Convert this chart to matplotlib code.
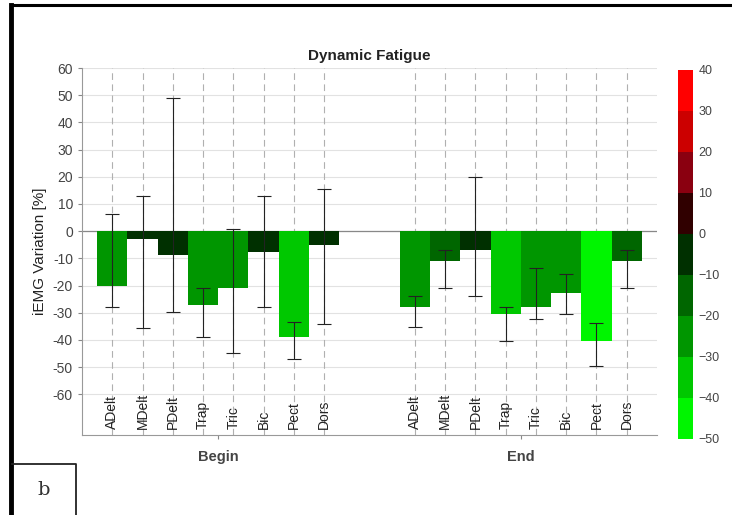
import matplotlib
matplotlib.use('Agg')
import matplotlib.pyplot as plt
import numpy as np
from matplotlib.colors import ListedColormap, BoundaryNorm
from matplotlib.lines import Line2D
import matplotlib.cm as cm

plt.rcParams['font.family'] = ['Liberation Sans', 'DejaVu Sans']

muscles = ['ADelt', 'MDelt', 'PDelt', 'Trap', 'Tric', 'Bic', 'Pect', 'Dors']
phases = ['Begin', 'End']

# bar value, top and bottom of whisker (iEMG variation, %)
begin_vals = [-20.2, -3, -8.8, -27.2, -21, -7.7, -39, -5.2]
begin_hi = [6.2, 12.9, 48.9, -21, 0.7, 12.9, -33.4, 15.4]
begin_lo = [-28, -35.7, -29.8, -39, -44.9, -28, -47, -34.2]

end_vals = [-28, -11, -7, -30.3, -28, -22.9, -40.4, -11]
end_hi = [-24, -7, 19.9, -28, -13.6, -15.8, -33.9, -7]
end_lo = [-35.2, -21, -24, -40.4, -32.4, -30.6, -49.6, -21]

# colour scale, one colour per 10 % bin from -50 to 40
bin_edges = [-50, -40, -30, -20, -10, 0, 10, 20, 30, 40]
bin_colors = ['#00f500', '#00c800', '#009600', '#006600', '#003000',
              '#300000', '#8a0010', '#cc0000', '#ff0000']

cmap = ListedColormap(bin_colors)
norm = BoundaryNorm(bin_edges, cmap.N)

fig = plt.figure(figsize=(7.32, 5.15), dpi=100)
ax = fig.add_axes([0.112, 0.1553, 0.7855, 0.7126])

grey = '#444444'
x_begin = np.arange(1, 9)
x_end = np.arange(11, 19)
xs = np.concatenate([x_begin, x_end])
vals = np.array(begin_vals + end_vals)
hi = np.array(begin_hi + end_hi)
lo = np.array(begin_lo + end_lo)

# grid
for y in range(-60, 61, 10):
    ax.axhline(y, color='#e2e2e2', lw=0.8, zorder=0)
for x in xs:
    ax.axvline(x, color='#b0b0b0', lw=0.8, ls=(0, (6, 4)), zorder=0.5)
ax.axhline(0, color='#888888', lw=0.9, zorder=0.6)

ax.bar(xs, vals, width=1.0, color=cmap(norm(vals)), zorder=2)
ax.errorbar(xs, vals, yerr=[vals - lo, hi - vals], fmt='none',
            ecolor='#222222', elinewidth=0.8, capsize=5, capthick=0.8, zorder=3)

for x, name in zip(xs, muscles + muscles):
    ax.text(x, -72.8, name, rotation=90, ha='center', va='bottom',
            fontsize=10, color='#222222', zorder=4)

ax.set_xlim(0, 19)
ax.set_ylim(-75, 60)
ax.set_yticks(range(-60, 61, 10))
ax.set_yticklabels([str(v) for v in range(-60, 61, 10)], fontsize=10, color=grey)
ax.set_xticks([4.5, 14.5])
ax.set_xticklabels(phases, fontsize=10.5, fontweight='bold', color=grey)
ax.tick_params(axis='x', length=3, pad=8, color='#888888')
ax.tick_params(axis='y', length=3, color='#888888')
for side in ['top', 'right']:
    ax.spines[side].set_visible(False)
for side in ['left', 'bottom']:
    ax.spines[side].set_color('#999999')
    ax.spines[side].set_linewidth(0.8)

ax.set_ylabel('iEMG Variation [%]', fontsize=11, color='#222222', labelpad=4)
ax.set_title('Dynamic Fatigue', fontsize=11, fontweight='bold', color='#222222', pad=6)

# colour bar
cax = fig.add_axes([0.926, 0.1476, 0.0205, 0.7165])
cb = fig.colorbar(cm.ScalarMappable(norm=norm, cmap=cmap), cax=cax,
                  ticks=bin_edges, spacing='proportional')
cb.outline.set_visible(False)
cax.tick_params(length=0, labelsize=9, colors=grey, pad=4)

# panel frame and label box
fig.add_artist(Line2D([0.0150, 1.0], [0.990, 0.990], color='black', lw=2.2,
                      transform=fig.transFigure))
fig.add_artist(Line2D([0.0150, 0.0150], [0.0, 0.990], color='black', lw=3.5,
                      transform=fig.transFigure))
fig.add_artist(Line2D([0.0170, 0.104, 0.104], [0.099, 0.099, 0.0], color='#222222',
                      lw=1.3, transform=fig.transFigure))
fig.text(0.060, 0.048, 'b', fontsize=14, family='DejaVu Serif', color='#333333',
         ha='center', va='center')

fig.savefig('out.png', dpi=100, facecolor='white')
